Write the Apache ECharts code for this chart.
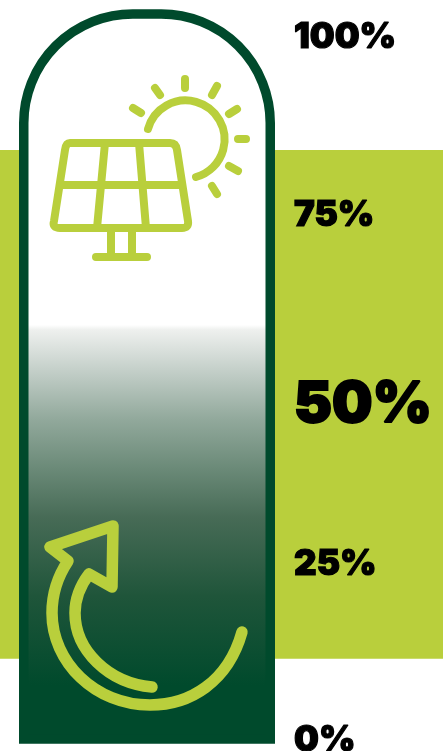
<!DOCTYPE html>
<html>
<head>
<meta charset="utf-8">
<style>html,body{margin:0;padding:0;background:#fff;overflow:hidden}#chart{width:443px;height:751px}</style>
<script src="https://cdn.jsdelivr.net/npm/echarts@6/dist/echarts.min.js"></script>
</head>
<body>
<div id="chart"></div>
<script>
// Scale ticks
const tickValues = [0, 25, 50, 75, 100];
const tickLabels = ['0%', '25%', '50%', '75%', '100%'];
// Target band behind the gauge (low and high end, percent)
const bandRange = [11.4, 83.8];
// Gauge tube extent and fill level (percent)
const tubeRange = [0, 103.8];
const fillRange = [0, 58.9];

const GREEN = '#b9cf3c';
const DARK = '#004a2c';

const chart = echarts.init(document.getElementById('chart'));

function tubeItem(params, api) {
  const bottom = api.coord([0, tubeRange[0]]);
  const top = api.coord([0, tubeRange[1]]);
  const level = api.coord([0, fillRange[1]]);
  const s = params.coordSys;
  const w = 9.5;
  const r = 109;
  const xl = s.x + w / 2;
  const xr = s.x + s.width - w / 2;
  const yt = top[1] + w / 2;
  return {
    type: 'group',
    children: [
      { type: 'rect',
        shape: { x: xl, y: yt, width: xr - xl, height: bottom[1] - yt, r: [r, r, 0, 0] },
        style: { fill: '#fff' } },
      { type: 'rect',
        shape: { x: xl, y: level[1], width: xr - xl, height: bottom[1] - level[1] },
        style: { fill: new echarts.graphic.LinearGradient(0, 0, 0, 1, [
          { offset: 0, color: '#ffffff' },
          { offset: 0.012, color: '#eef0ee' },
          { offset: 0.107, color: '#c5d0ca' },
          { offset: 0.227, color: '#92a99c' },
          { offset: 0.346, color: '#6b8a78' },
          { offset: 0.465, color: '#476b56' },
          { offset: 0.656, color: '#1f553a' },
          { offset: 0.87, color: DARK },
          { offset: 1, color: DARK }
        ]) } },
      { type: 'path',
        shape: {
          pathData: `M${xl} ${bottom[1]}V${yt + r}A${r} ${r} 0 0 1 ${xl + r} ${yt}H${xr - r}A${r} ${r} 0 0 1 ${xr} ${yt + r}V${bottom[1]}Z`
        },
        style: { fill: 'none', stroke: DARK, lineWidth: w } }
    ]
  };
}

const icon = (d, w) => ({
  type: 'path',
  shape: { pathData: d },
  style: { fill: 'none', stroke: GREEN, lineWidth: w, lineCap: 'round', lineJoin: 'round' }
});

// Solar panel, sun and return arrow drawn over the tube
function iconsItem() {
  return {
    type: 'group',
    children: [
      icon('M70 143H170Q176 143 177 150L188 221Q189 228 182 228H60Q52 228 54 221L65 150Q66 143 70 143ZM105 143L97 228M139 143L146 228M60 185H182M111 228V257M132 228V257M96 257H147', 8),
      icon('M148 129A39 39 0 1 1 196 177M185 79V88M155 88L160 95M133 108L141 113M217 86L212 95M237 109L229 114M238 139H246M229 166L238 171M212 186L217 194', 8),
      icon('M242 632C228 682 190 705 150 705C95 705 52 662 52 613C52 593 58 576 68 561L50 547L113 526L112 587L89 574C80 586 75 598 75 613C75 650 108 683 152 687', 11.5)
    ]
  };
}

const labelFont = { fontFamily: 'Inter', fontWeight: 900, color: '#000', textBorderColor: '#000' };

chart.setOption({
  animation: false,
  grid: [
    { left: 0, top: 0, width: 443, height: 751, outerBoundsMode: 'none' },
    { left: 19, top: 0, width: 256, height: 751, outerBoundsMode: 'none' }
  ],
  xAxis: [
    { gridIndex: 0, type: 'value', min: 0, max: 1, show: false },
    { gridIndex: 1, type: 'value', min: 0, max: 1, show: false }
  ],
  yAxis: [
    { gridIndex: 0, type: 'value', min: -1.71, max: 105.12, z: 10,
      splitLine: { show: false }, axisLine: { show: false }, axisTick: { show: false },
      axisLabel: {
        customValues: tickValues,
        inside: true, margin: 294, align: 'left', verticalAlign: 'middle',
        formatter: v => {
          const t = tickLabels[tickValues.indexOf(v)];
          return `{${v === 50 ? 'big' : v === 75 ? 'low' : 'base'}|${t}}`;
        },
        rich: {
          base: { ...labelFont, fontSize: 35, textBorderWidth: 1.2, padding: [3, 0, 0, 0] },
          low: { ...labelFont, fontSize: 35, textBorderWidth: 1.2, padding: [8, 0, 0, 0] },
          big: { ...labelFont, fontSize: 57, textBorderWidth: 2, padding: [34, 0, 0, 0] }
        }
      }
    },
    { gridIndex: 1, type: 'value', min: -1.71, max: 105.12, show: false }
  ],
  series: [
    { type: 'line', xAxisIndex: 0, yAxisIndex: 0, data: [], silent: true,
      markArea: { silent: true, itemStyle: { color: GREEN, opacity: 1 },
        data: [[{ yAxis: bandRange[0], xAxis: 0 }, { yAxis: bandRange[1], xAxis: 1 }]] } },
    { type: 'custom', xAxisIndex: 1, yAxisIndex: 1, clip: false, z: 5,
      renderItem: tubeItem, data: [[0, tubeRange[1]]] },
    { type: 'custom', xAxisIndex: 1, yAxisIndex: 1, clip: false, z: 6, silent: true,
      renderItem: iconsItem, data: [[0, 0]] }
  ]
});
</script>
</body>
</html>
